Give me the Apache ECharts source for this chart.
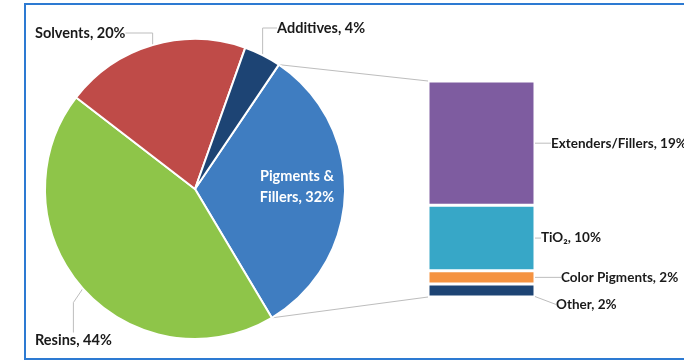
<!DOCTYPE html>
<html>
<head>
<meta charset="utf-8">
<script src="https://cdn.jsdelivr.net/npm/echarts@6/dist/echarts.min.js"></script>
<style>
  html, body { margin: 0; padding: 0; background: #fff; }
  #chart { width: 684px; height: 363px; }
</style>
</head>
<body>
<div id="chart"></div>
<script>
// Paint composition (share of formulation, %)
const pieNames = ['Pigments &\nFillers', 'Resins', 'Solvents', 'Additives'];
const pieValues = [32, 44, 20, 4];
const pieColors = ['#3F7DC1', '#8EC549', '#BF4B48', '#1D4474'];

// Breakdown of Pigments & Fillers (%)
const subNames = ['Extenders/Fillers', 'TiO\u2082', 'Color Pigments', 'Other'];
const subValues = [19, 10, 2, 2];
const subColors = ['#7E5CA0', '#37A7C7', '#F59341', '#1D4474'];

const FONT = 'Lato, "Liberation Sans", sans-serif';
const PIE_CENTER = [195, 189];
const PIE_R = 150;
const START = 56;
const GRID = { left: 428, top: 81, width: 107, height: 216 };

// label placement around the pie (by data index)
const pieLabelSpots = {
  1: { x: 35, y: 340, align: 'left', verticalAlign: 'middle' },
  2: { x: 35, y: 33, align: 'left', verticalAlign: 'middle' },
  3: { x: 277, y: 28, align: 'left', verticalAlign: 'middle' },
  0: { dx: 12, dy: -2 }
};
// label nudges next to the bar (by series index)
const barLabelMoves = {
  2: { dx: 22, dy: 0 },
  3: { dx: 17, dy: 14 }
};

const chart = echarts.init(document.getElementById('chart'), null, { renderer: 'canvas' });

const pieData = pieNames.map((n, i) => {
  const d = { name: n, value: pieValues[i], itemStyle: { color: pieColors[i] } };
  if (i === 0) {
    d.label = { position: 'inside', color: '#fff', align: 'center', lineHeight: 21, fontSize: 14.5 };
    d.labelLine = { show: false };
  }
  return d;
});

const barSeries = subNames.map((n, i) => ({
  type: 'bar',
  name: n,
  stack: 'mix',
  barWidth: '100%',
  data: [subValues[i]],
  itemStyle: { color: subColors[i], borderColor: '#fff', borderWidth: 1.5 },
  label: {
    show: true,
    position: 'right',
    distance: i === 0 ? 16 : (i === 1 ? 6 : 4),
    formatter: n + ', ' + subValues[i] + '%',
    color: '#1a1a1a',
    fontFamily: FONT,
    fontWeight: 'bold',
    fontSize: 13.5
  },
  labelLine: { show: true, lineStyle: { color: '#bdbdbd', width: 1 } },
  labelLayout: barLabelMoves[i] ? Object.assign({}, barLabelMoves[i]) : null,
  silent: true
}));

const frame = {
  type: 'rect',
  shape: { x: 25, y: 4, width: 700, height: 355 },
  style: { fill: 'none', stroke: '#2D7AD2', lineWidth: 2 },
  silent: true
};

chart.setOption({
  animation: false,
  backgroundColor: '#fff',
  grid: GRID,
  xAxis: { type: 'category', data: ['mix'], show: false },
  yAxis: { type: 'value', min: 0, max: subValues.reduce((a, b) => a + b, 0), inverse: true, show: false },
  series: [
    {
      type: 'pie',
      center: PIE_CENTER,
      radius: [0, PIE_R],
      startAngle: START,
      clockwise: true,
      avoidLabelOverlap: false,
      data: pieData,
      itemStyle: { borderColor: '#fff', borderWidth: 2 },
      label: {
        show: true,
        formatter: p => p.name + ', ' + p.value + '%',
        color: '#1a1a1a',
        fontFamily: FONT,
        fontWeight: 'bold',
        fontSize: 14.5
      },
      labelLine: { show: true, lineStyle: { color: '#bdbdbd', width: 1 } },
      labelLayout: p => Object.assign({}, pieLabelSpots[p.dataIndex] || {}),
      silent: true
    }
  ].concat(barSeries),
  graphic: [frame]
});

// connector lines from the Pigments & Fillers slice edges to the bar
(function drawConnectors() {
  const total = pieValues.reduce((a, b) => a + b, 0);
  const a0 = START * Math.PI / 180;
  const a1 = (START - pieValues[0] / total * 360) * Math.PI / 180;
  const p0 = [PIE_CENTER[0] + PIE_R * Math.cos(a0), PIE_CENTER[1] - PIE_R * Math.sin(a0)];
  const p1 = [PIE_CENTER[0] + PIE_R * Math.cos(a1), PIE_CENTER[1] - PIE_R * Math.sin(a1)];
  const sum = subValues.reduce((a, b) => a + b, 0);
  const top = chart.convertToPixel({ gridIndex: 0 }, [0, 0]);
  const bottom = chart.convertToPixel({ gridIndex: 0 }, [0, sum]);
  const barLeft = GRID.left;
  chart.setOption({
    graphic: [
      frame,
      {
        type: 'line',
        shape: { x1: p0[0], y1: p0[1], x2: barLeft, y2: top[1] },
        style: { stroke: '#bdbdbd', lineWidth: 1 },
        silent: true
      },
      {
        type: 'line',
        shape: { x1: p1[0], y1: p1[1], x2: barLeft, y2: bottom[1] },
        style: { stroke: '#bdbdbd', lineWidth: 1 },
        silent: true
      }
    ]
  });
})();
</script>
</body>
</html>
